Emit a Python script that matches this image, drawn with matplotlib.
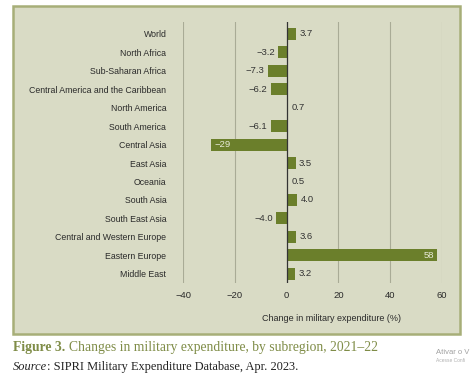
import matplotlib
matplotlib.use("Agg")
import matplotlib.pyplot as plt
from matplotlib.patches import Rectangle

regions = [
    "World", "North Africa", "Sub-Saharan Africa", "Central America and the Caribbean",
    "North America", "South America", "Central Asia", "East Asia", "Oceania",
    "South Asia", "South East Asia", "Central and Western Europe", "Eastern Europe",
    "Middle East",
]
changes = [3.7, -3.2, -7.3, -6.2, 0.7, -6.1, -29, 3.5, 0.5, 4.0, -4.0, 3.6, 58, 3.2]
value_labels = ["3.7", "\u22123.2", "\u22127.3", "\u22126.2", "0.7", "\u22126.1", "\u221229",
                "3.5", "0.5", "4.0", "\u22124.0", "3.6", "58", "3.2"]
xticks = [-40, -20, 0, 20, 40, 60]

bg = "#d9dbc5"
bar_color = "#6b7f2b"
olive = "#7f8c47"
plt.rcParams["font.family"] = ["Liberation Sans", "DejaVu Sans"]
fs = 6.8

fig = plt.figure(figsize=(4.74, 3.78), dpi=100)
fig.patch.set_facecolor("white")

W, H = 474, 378
panel = Rectangle((13 / W, 1 - 334 / H), (460 - 13) / W, (334 - 6) / H,
                  transform=fig.transFigure, facecolor=bg, edgecolor="#a7ae78",
                  linewidth=1.8, zorder=0)
fig.patches.append(panel)

ax = fig.add_axes([183 / W, 1 - 283 / H, (442 - 183) / W, (283 - 22) / H])
ax.set_facecolor("none")
ax.set_zorder(2)

ypos = list(range(len(regions)))
ax.barh(ypos, changes, height=0.65, color=bar_color, zorder=3)
ax.set_ylim(len(regions) - 0.5, -0.65)
ax.set_xlim(-40, 60)

for y, v, lab in zip(ypos, changes, value_labels):
    if abs(v) > 20:
        x = v - 1.2 if v > 0 else v + 1.2
        ax.text(x, y, lab, ha="right" if v > 0 else "left", va="center",
                fontsize=fs, color="#e8ead8", zorder=4)
    elif v >= 0:
        ax.text(v + 1.3, y, lab, ha="left", va="center", fontsize=fs, color="#333333", zorder=4)
    else:
        ax.text(v - 1.3, y, lab, ha="right", va="center", fontsize=fs, color="#333333", zorder=4)

ax.set_xticks(xticks)
ax.set_xticklabels([("\u2212" + str(-t)) if t < 0 else str(t) for t in xticks])
for t in xticks:
    if t != 0:
        ax.axvline(t, color="#a9ab96", linewidth=0.8, zorder=1)
ax.axvline(0, color="#333333", linewidth=0.9, zorder=5)

ax.set_yticks(ypos)
ax.set_yticklabels(regions)
ax.tick_params(axis="both", length=0, labelsize=fs, colors="#2a2a2a")
ax.tick_params(axis="y", pad=12, labelsize=6.3)
ax.tick_params(axis="x", pad=6)
for s in ax.spines.values():
    s.set_visible(False)
ax.set_xlabel("Change in military expenditure (%)", fontsize=6.5, color="#2a2a2a")
ax.xaxis.set_label_coords((331 - 183) / (442 - 183), -0.12)

fig.canvas.draw()
r = fig.canvas.get_renderer()
t1 = fig.text(13 / W, 1 - 347 / H, "Figure 3.", family="Liberation Serif", fontweight="bold",
              fontsize=9.8, color=olive, va="center")
bb = t1.get_window_extent(renderer=r)
fig.text(bb.x1 / fig.bbox.width + 4 / W, 1 - 347 / H,
         "Changes in military expenditure, by subregion, 2021\u201322",
         family="Liberation Serif", fontsize=9.8, color=olive, va="center")

t2 = fig.text(13 / W, 1 - 367 / H, "Source", family="Liberation Serif", style="italic",
              fontsize=8.9, color="#222222", va="center")
bb2 = t2.get_window_extent(renderer=r)
fig.text(bb2.x1 / fig.bbox.width, 1 - 367 / H, ": SIPRI Military Expenditure Database, Apr. 2023.",
         family="Liberation Serif", fontsize=8.9, color="#222222", va="center")

fig.text(436 / W, 1 - 352 / H, "Ativar o V", fontsize=5.5, color="#a0a0a0", va="center")
fig.text(436 / W, 1 - 361 / H, "Acesse Confi", fontsize=3.5, color="#b0b0b0", va="center")

fig.savefig("out.png", dpi=100)
